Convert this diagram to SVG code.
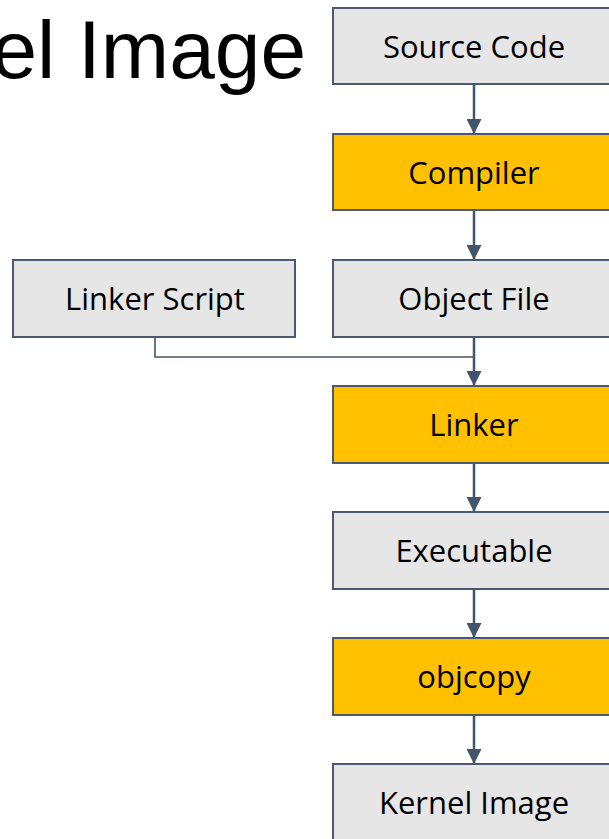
<svg xmlns="http://www.w3.org/2000/svg" width="609" height="839" viewBox="0 0 609 839">
<defs>
<style>
.box{stroke:#4a5870;stroke-width:2}
.gray{fill:#e6e6e6}
.orange{fill:#ffc000}
.lbl{font-family:"Open Sans","Noto Sans",sans-serif;font-size:31px;fill:#000;text-anchor:middle}
.title{font-family:"Liberation Sans",Arial,sans-serif;font-size:82px;fill:#000;text-anchor:end}
.conn{stroke:#44546a;stroke-width:2.5;fill:none}
.thin{stroke:#44546a;stroke-width:1.6;fill:none}
</style>
<marker id="ah" markerWidth="15" markerHeight="15" viewBox="0 0 15 15" refX="15" refY="7.5" orient="auto" markerUnits="userSpaceOnUse">
<path d="M0,0 L15,7.5 L0,15 Z" fill="#44546a"/>
</marker>
</defs>
<rect width="609" height="839" fill="#fff"/>
<text class="title" x="306" y="78">el Image</text>
<g id="connectors">
<line class="conn" x1="474" y1="84" x2="474" y2="134" marker-end="url(#ah)"/>
<line class="conn" x1="474" y1="210" x2="474" y2="260" marker-end="url(#ah)"/>
<polyline class="thin" points="155,337 155,357 474,357"/>
<line class="conn" x1="474" y1="337" x2="474" y2="386" marker-end="url(#ah)"/>
<line class="conn" x1="474" y1="463" x2="474" y2="512" marker-end="url(#ah)"/>
<line class="conn" x1="474" y1="589" x2="474" y2="638" marker-end="url(#ah)"/>
<line class="conn" x1="474" y1="715" x2="474" y2="764" marker-end="url(#ah)"/>
</g>
<g id="source-code"><rect class="box gray" x="333" y="8" width="282" height="76"/><text class="lbl" x="474" y="58">Source Code</text></g>
<g id="compiler"><rect class="box orange" x="333" y="134" width="282" height="76"/><text class="lbl" x="474" y="184">Compiler</text></g>
<g id="linker-script"><rect class="box gray" x="13" y="260" width="282" height="77"/><text class="lbl" x="155" y="310">Linker Script</text></g>
<g id="object-file"><rect class="box gray" x="333" y="260" width="282" height="77"/><text class="lbl" x="474" y="310">Object File</text></g>
<g id="linker"><rect class="box orange" x="333" y="386" width="282" height="77"/><text class="lbl" x="474" y="436">Linker</text></g>
<g id="executable"><rect class="box gray" x="333" y="512" width="282" height="77"/><text class="lbl" x="474" y="562">Executable</text></g>
<g id="objcopy"><rect class="box orange" x="333" y="638" width="282" height="77"/><text class="lbl" x="474" y="688">objcopy</text></g>
<g id="kernel-image"><rect class="box gray" x="333" y="764" width="282" height="80"/><text class="lbl" x="474" y="814">Kernel Image</text></g>
</svg>
